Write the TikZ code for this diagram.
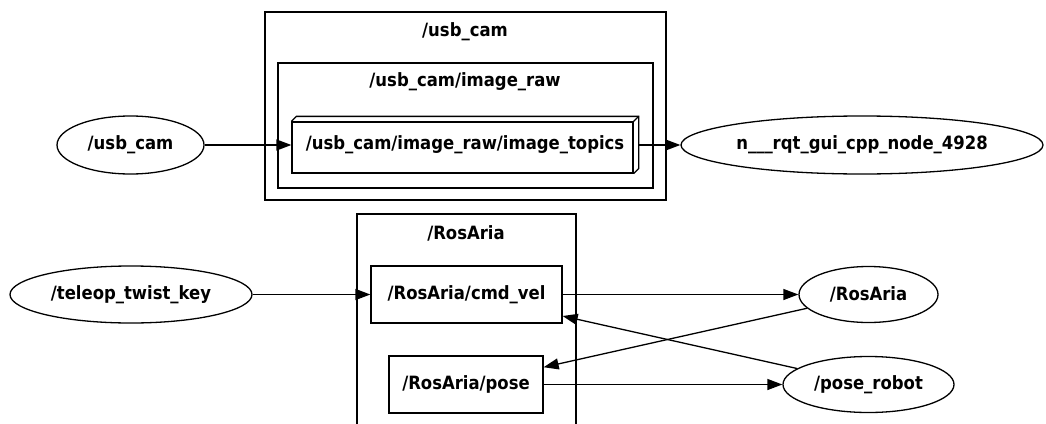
\documentclass[tikz,border=0pt]{standalone}
\usepackage{fontspec}
\setmainfont{DejaVu Sans Condensed}
\usepackage{tikz}
\usetikzlibrary{shapes.geometric,arrows.meta,positioning,calc}

\begin{document}
\begin{tikzpicture}[
      x=1pt, y=-1pt,
      font=\fontsize{18.3}{21}\selectfont\bfseries, >={Triangle[length=15pt,width=11pt]},
      line width=1.3pt,
      rosnode/.style={ellipse, draw, inner sep=0pt},
      topicbox/.style={rectangle, draw, inner sep=0pt},
      clusterbox/.style={rectangle, draw, inner sep=0pt},
      arr/.style={->, line width=1.3pt},
    ]
    \useasboundingbox (0,0) rectangle (1046,423);

    % ── USB_CAM CLUSTER ─────────────────────────────────────────
    \node[clusterbox, minimum width=401pt, minimum height=188pt] (camgrp) at (465.5,106) {};
    \node (camlbl) at (465,32) {/usb\_cam};
    \node[clusterbox, minimum width=375pt, minimum height=125pt] (rawgrp) at (465.5,125.5) {};
    \node (rawlbl) at (465,82) {/usb\_cam/image\_raw};

    \node[topicbox, minimum width=341pt, minimum height=51pt] (topics) at (462.5,147.5) {};
    \node (topicslbl) at (465,145) {/usb\_cam/image\_raw/image\_topics};
    \draw (topics.north west) -- ++(5,-5) -| ($(topics.south east)+(5,-5)$) -- (topics.south east);
    \draw (topics.north east) -- ++(5,-5);

    \node[rosnode, minimum width=147pt, minimum height=58pt] (usbcam) at (130.5,145) {/usb\_cam};
    \node[rosnode, minimum width=362pt, minimum height=58pt] (rqt) at (862,145) {n\_\_\_rqt\_gui\_cpp\_node\_4928};

    \draw[arr] (usbcam.east) -- (usbcam.east -| topics.west);
    \draw[arr] ($(topics.east)+(5,-2.5)$) -- (rqt.west);

    % ── ROSARIA CLUSTER ─────────────────────────────────────────
    \draw (357,430) -- (357,214) -- (576,214) -- (576,430);
    \node (arialbl) at (466,233) {/RosAria};

    \node[topicbox, minimum width=191pt, minimum height=57pt] (cmdvel) at (466.5,294.5) {/RosAria/cmd\_vel};
    \node[topicbox, minimum width=154pt, minimum height=57pt] (pose) at (466,384.5) {/RosAria/pose};

    \node[rosnode, minimum width=242pt, minimum height=57pt] (teleop) at (131,294.5) {/teleop\_twist\_key};
    \node[rosnode, minimum width=139pt, minimum height=56pt] (rosaria) at (868.5,294.5) {/RosAria};
    \node[rosnode, minimum width=171pt, minimum height=56pt] (poserobot) at (868.5,384.5) {/pose\_robot};

    \draw[arr] (teleop) -- (cmdvel);
    \draw[arr] (cmdvel) -- (rosaria);
    \draw[arr] (rosaria) -- (pose);
    \draw[arr] (poserobot) -- (cmdvel);
    \draw[arr] (pose) -- (poserobot);
\end{tikzpicture}
\end{document}
